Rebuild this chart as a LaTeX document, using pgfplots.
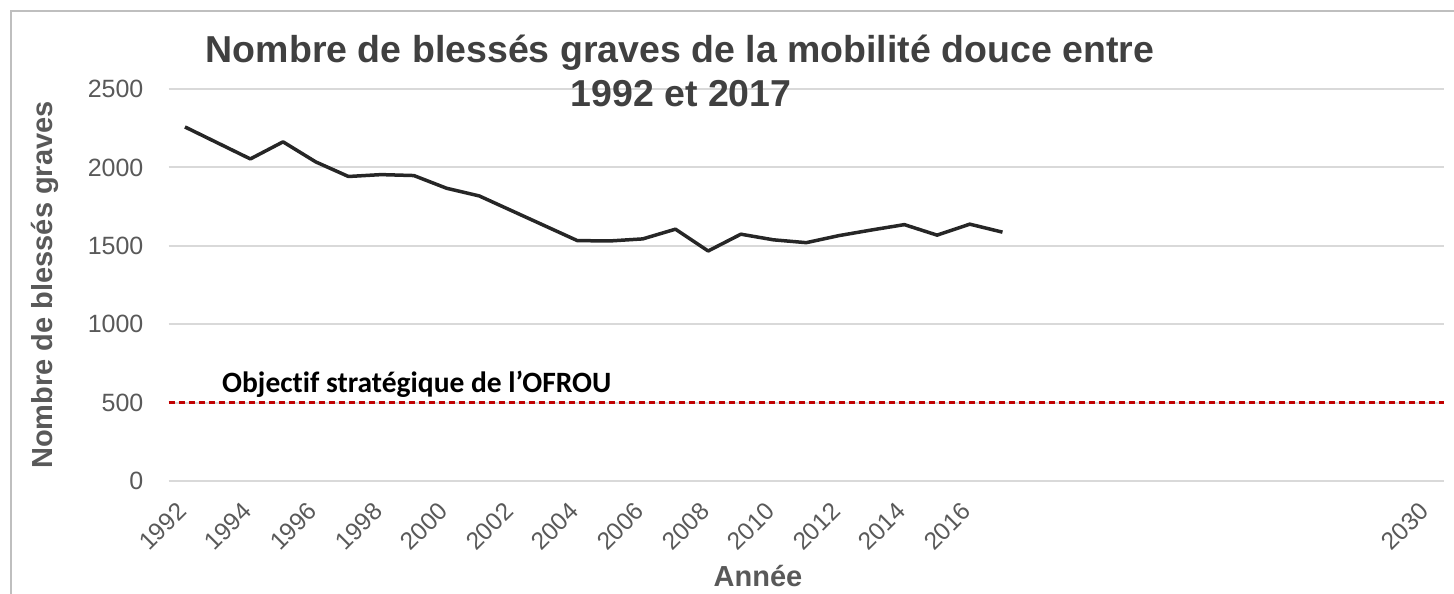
\documentclass[border=0pt]{standalone}
\usepackage{fontspec}
\setmainfont{Liberation Sans}
\newfontfamily\carlito{Carlito}[Ligatures={NoCommon}]
\usepackage{pgfplots}
\pgfplotsset{compat=1.18}
\definecolor{titlegray}{HTML}{404040}
\definecolor{labgray}{HTML}{595959}
\definecolor{gridgray}{HTML}{D9D9D9}
\definecolor{framegray}{HTML}{BFBFBF}
\definecolor{linedark}{HTML}{262626}
\definecolor{targetred}{HTML}{C00000}
\begin{document}
\begin{tikzpicture}[x=1pt,y=1pt]
\useasboundingbox (0,0) rectangle (1454,594);
\draw[framegray, line width=2pt] (11,-5) -- (11,583) -- (1460,583);
\begin{axis}[
  at={(168.6pt,113pt)}, anchor=south west,
  scale only axis, width=1275.4pt, height=392pt,
  xmin=1991.5, xmax=2030.5, ymin=0, ymax=2500,
  xtick={1992,1994,...,2016,2030},
  ytick={0,500,...,2500},
  axis line style={draw=none},
  major tick length=0pt,
  ymajorgrids, grid style={gridgray, line width=2pt},
  /pgf/number format/1000 sep={},
  /pgf/number format/assume math mode=true,
  yticklabel style={font=\fontsize{25}{30}\selectfont, text=labgray, anchor=east, inner sep=0pt, xshift=-25pt},
  xticklabel style={font=\fontsize{24.5}{28}\selectfont, text=labgray, inner sep=0pt, xshift=-3pt, yshift=-26pt, rotate=45, anchor=east},
  clip=false,
]
\addplot[targetred, line width=2.5pt, dash pattern=on 6pt off 4pt] coordinates {(1991.5,500) (2030.5,500)};
\addplot[linedark, line width=3.5pt, line join=round] coordinates {
(1992,2258) (1993,2156) (1994,2054) (1995,2163) (1996,2035) (1997,1942)
(1998,1954) (1999,1948) (2000,1867) (2001,1818) (2002,1723) (2003,1628)
(2004,1533) (2005,1531) (2006,1544) (2007,1606) (2008,1467) (2009,1574)
(2010,1538) (2011,1520) (2012,1565) (2013,1601) (2014,1635) (2015,1568)
(2016,1638) (2017,1587)};
\end{axis}
\node[anchor=base, text=titlegray, font=\bfseries\fontsize{37.5}{44}\selectfont, inner sep=0pt] at (680,531) {Nombre de blessés graves de la mobilité douce entre};
\node[anchor=base, text=titlegray, font=\bfseries\fontsize{37.5}{44}\selectfont, inner sep=0pt] at (681,487) {1992 et 2017};
\node[anchor=base, text=labgray, font=\bfseries\fontsize{29}{34}\selectfont, inner sep=0pt] at (758,7) {Année};
\node[anchor=base, rotate=90, text=labgray, font=\bfseries\fontsize{29}{34}\selectfont, inner sep=0pt] at (52,309) {Nombre de blessés graves};
\node[anchor=base west, text=black, font=\carlito\bfseries\fontsize{29.5}{34}\selectfont, inner sep=0pt] at (222,201) {Objectif stratégique de l’OFROU};
\end{tikzpicture}
\end{document}
